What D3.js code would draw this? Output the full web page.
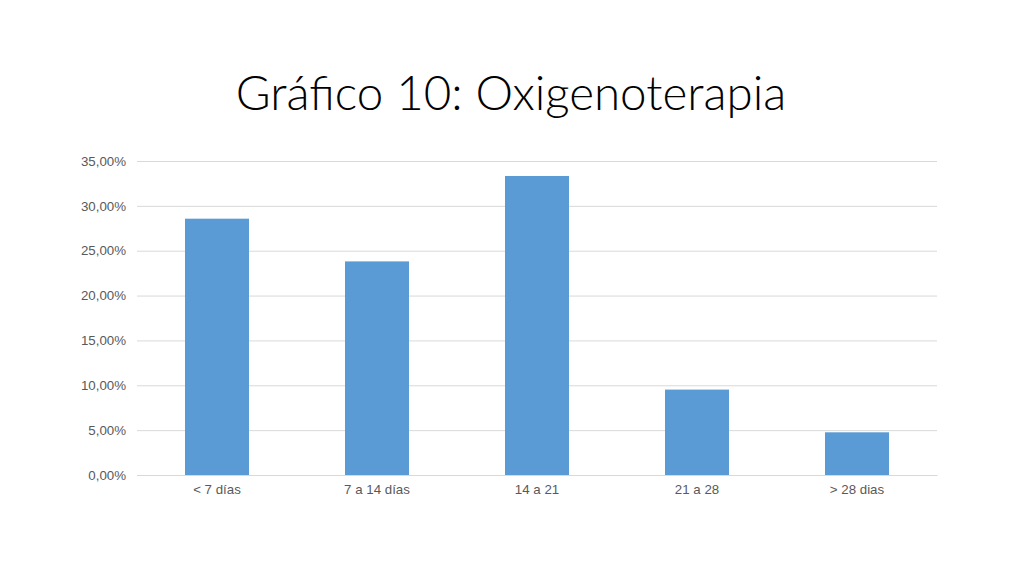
<!DOCTYPE html>
<html><head><meta charset="utf-8">
<script src="https://cdn.jsdelivr.net/npm/d3@7"></script>
<style>body{margin:0;background:#fff;} svg{display:block;}</style>
</head><body>
<svg id="c" width="1024" height="576"></svg>
<script>
const title = "Gráfico 10: Oxigenoterapia";
const categories = ["< 7 días", "7 a 14 días", "14 a 21", "21 a 28", "> 28 dias"];
const values = [0.2857, 0.2381, 0.3333, 0.0952, 0.0476];
const yTicks = [0, 0.05, 0.10, 0.15, 0.20, 0.25, 0.30, 0.35];

const svg = d3.select("#c");
const x = d3.scaleBand().domain(categories).range([137, 937]).paddingInner(0.6).paddingOuter(0.3);
const y = d3.scaleLinear().domain([0, 0.35]).range([475, 161]);
const fmt = v => (v*100).toFixed(2).replace(".", ",") + "%";

svg.append("text").attr("x", 511).attr("y", 110).attr("text-anchor", "middle")
  .attr("font-family", "Lato, 'Open Sans', sans-serif").attr("font-weight", 300)
  .attr("font-size", 47.5).attr("fill", "#000").text(title);

const yAxis = d3.axisLeft(y).tickValues(yTicks).tickFormat(fmt).tickSize(-800).tickPadding(11);
const gy = svg.append("g").attr("transform", "translate(137,0)").call(yAxis);
gy.select(".domain").remove();
gy.selectAll(".tick line").attr("stroke", "#d9d9d9").attr("stroke-width", 1);
gy.selectAll(".tick text").attr("font-family", "'Liberation Sans', Arial, sans-serif").attr("font-size", 13.3).attr("fill", "#595959");

svg.append("g").selectAll("rect").data(values).join("rect")
  .attr("x", (d,i) => x(categories[i])).attr("width", x.bandwidth())
  .attr("y", d => y(d)).attr("height", d => y(0) - y(d)).attr("fill", "#5b9bd5");

const xAxis = d3.axisBottom(x).tickSize(0).tickPadding(10);
const gx = svg.append("g").attr("transform", "translate(0,475)").call(xAxis);
gx.select(".domain").attr("stroke", "#d9d9d9");
gx.selectAll(".tick text").attr("font-family", "'Liberation Sans', Arial, sans-serif").attr("font-size", 13.3).attr("fill", "#595959");
</script>
</body></html>
